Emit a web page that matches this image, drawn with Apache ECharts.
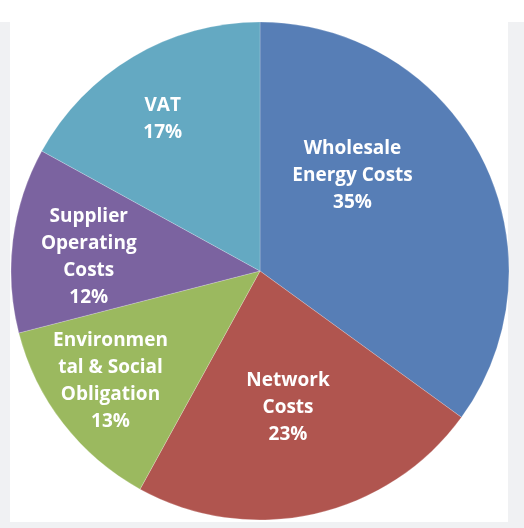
<!DOCTYPE html>
<html>
<head>
<meta charset="utf-8">
<script src="https://cdn.jsdelivr.net/npm/echarts@6/dist/echarts.min.js"></script>
<style>
  html, body { margin: 0; padding: 0; width: 524px; height: 528px; overflow: hidden; background: #f0f1f3; }
  #topband { position: absolute; left: 0; top: 0; width: 524px; height: 22px; background: #ffffff; }
  #panel { position: absolute; left: 10px; top: 22px; width: 498px; height: 500px; background: #ffffff; }
  #chart { position: absolute; left: 0; top: 0; width: 524px; height: 528px; }
</style>
</head>
<body>
<div id="topband"></div>
<div id="panel"></div>
<div id="chart"></div>
<script>
// Data
const categories = ["Wholesale Energy Costs", "Network Costs", "Environmental & Social Obligation", "Supplier Operating Costs", "VAT"];
const labelTexts = ["Wholesale\nEnergy Costs", "Network\nCosts", "Environmen\ntal & Social\nObligation", "Supplier\nOperating\nCosts", "VAT"];
const values = [35, 23, 13, 12, 17];

// Styling / layout (not data)
const colors = ["#577eb6", "#b0554f", "#9bb95f", "#7b63a0", "#64a9c2"];
const CX = 260, CY = 271, R = 249;
// label placement: angle shift from slice mid-angle (deg), radial fraction of R
const labelShift = [-19, 1, 1.5, -2.5, -2];
const labelRadial = [0.535, 0.56, 0.745, 0.69, 0.725];

const total = values.reduce((a, b) => a + b, 0);
const midAngles = [];
let acc = 0;
values.forEach(v => { midAngles.push((acc + v / 2) / total * 360); acc += v; });

const chart = echarts.init(document.getElementById('chart'), null, { renderer: 'canvas' });
chart.setOption({
  backgroundColor: 'transparent',
  animation: false,
  series: [{
    type: 'pie',
    center: [CX, CY],
    radius: [0, R],
    startAngle: 90,
    clockwise: true,
    avoidLabelOverlap: false,
    itemStyle: { borderColor: 'rgba(255,255,255,0.35)', borderWidth: 0.6 },
    label: {
      show: true,
      position: 'inside',
      color: '#ffffff',
      fontFamily: 'Open Sans',
      fontWeight: 'bold',
      fontSize: 19,
      lineHeight: 27,
      align: 'center',
      verticalAlign: 'middle',
      formatter: p => labelTexts[p.dataIndex] + '\n' + p.value + '%'
    },
    labelLine: { show: false },
    labelLayout: function (p) {
      const i = p.dataIndex;
      const a = (midAngles[i] + labelShift[i]) * Math.PI / 180;
      const d = labelRadial[i] * R;
      return { x: CX + d * Math.sin(a), y: CY - d * Math.cos(a), align: 'center', verticalAlign: 'middle' };
    },
    data: categories.map((c, i) => ({ name: c, value: values[i], itemStyle: { color: colors[i] } }))
  }]
});
</script>
</body>
</html>
